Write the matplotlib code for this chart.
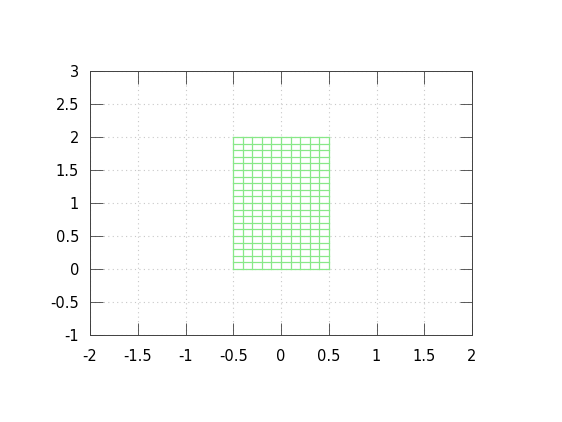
import numpy as np
import matplotlib
matplotlib.use('Agg')
import matplotlib.pyplot as plt

# mesh lines of the green grid
mesh_x = [-0.5, -0.4, -0.3, -0.2, -0.1, 0.0, 0.1, 0.2, 0.3, 0.4, 0.5]
mesh_y = [0.0, 0.1, 0.2, 0.3, 0.4, 0.5, 0.6, 0.7, 0.8, 0.9, 1.0,
          1.1, 1.2, 1.3, 1.4, 1.5, 1.6, 1.7, 1.8, 1.9, 2.0]
xticks = [-2, -1.5, -1, -0.5, 0, 0.5, 1, 1.5, 2]
yticks = [-1, -0.5, 0, 0.5, 1, 1.5, 2, 2.5, 3]
xlabels = ['-2', '-1.5', '-1', '-0.5', '0', '0.5', '1', '1.5', '2']
ylabels = ['-1', '-0.5', '0', '0.5', '1', '1.5', '2', '2.5', '3']

fig = plt.figure(figsize=(5.62, 4.22), dpi=100)
ax = fig.add_axes([90/562, 1-335/422, (472-90)/562, (335-71)/422])

green = '#88e888'
for xv in mesh_x:
    ax.plot([xv, xv], [mesh_y[0], mesh_y[-1]], color=green, lw=0.9, zorder=3)
for yv in mesh_y:
    ax.plot([mesh_x[0], mesh_x[-1]], [yv, yv], color=green, lw=0.9, zorder=3)

ax.set_xlim(-2, 2)
ax.set_ylim(-1, 3)
ax.set_xticks(xticks)
ax.set_xticklabels(xlabels)
ax.set_yticks(yticks)
ax.set_yticklabels(ylabels)
ax.grid(True, color='#c8c8c8', linestyle=(0, (1, 3)), lw=0.8)
ax.tick_params(direction='in', top=True, right=True, length=9, width=0.6,
               labelsize=10.5, color='#404040')
ax.tick_params(axis='x', pad=10)
ax.tick_params(axis='y', pad=8)
for s in ax.spines.values():
    s.set_linewidth(0.7)
    s.set_color('#404040')

fig.savefig('out.png', dpi=100)
